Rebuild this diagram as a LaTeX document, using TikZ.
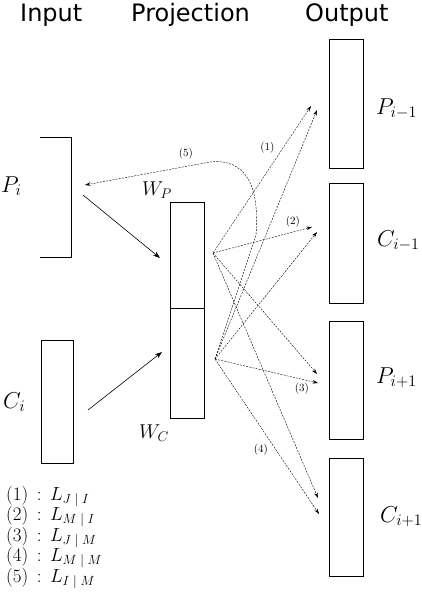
\documentclass[tikz,border=0pt]{standalone}
\usepackage{fix-cm}
\usepackage{fontspec}
\newfontfamily\hdrfont{DejaVu Sans}
\usetikzlibrary{arrows.meta}
\begin{document}
\begin{tikzpicture}[x=1pt,y=-1pt,
  box/.style={draw, line width=0.6pt, inner sep=0pt, outer sep=0pt, minimum width=34pt},
  pbox/.style={draw, line width=1pt, inner sep=0pt, outer sep=0pt, minimum width=34pt},
  hdr/.style={anchor=base west, inner sep=0pt, font=\hdrfont\fontsize{24}{28}\selectfont},
  bigm/.style={anchor=base west, inner sep=0pt, font=\fontsize{23}{27}\selectfont},
  wlab/.style={anchor=base west, inner sep=0pt, font=\fontsize{20}{24}\selectfont},
  num/.style={inner sep=0pt, font=\fontsize{11}{13}\selectfont},
  leg/.style={anchor=base west, inner sep=0pt, font=\fontsize{19}{22}\selectfont},
  conn/.style={dash pattern=on 2pt off 1.2pt, line width=0.4pt, -{Stealth[length=5.5pt,width=3.5pt]}},
  inarr/.style={line width=0.6pt, -{Stealth[length=7pt,width=5pt]}}]
\useasboundingbox (0,0) rectangle (422,592);

% headers
\node[hdr] (hin) at (20,21.5) {Input};
\node[hdr] (hproj) at (131,21.5) {Projection};
\node[hdr] (hout) at (305,21.5) {Output};

% input boxes
\node[inner sep=0pt, outer sep=0pt, minimum width=31pt, minimum height=120pt] (pi) at (55.5,197) {};
\draw[line width=0.6pt] (pi.north west) -- (pi.north east) -- (pi.south east) -- (pi.south west);
\node[box, minimum width=32pt, minimum height=123pt] (ci) at (57,401.5) {};
\node[bigm] (lpi) at (1,192) {$P_i$};
\node[bigm] (lci) at (3,408) {$C_i$};

% projection
\node[pbox, minimum height=106pt] (wp) at (187,255) {};
\node[pbox, minimum height=110pt] (wc) at (187,363) {};
\node[wlab] (lwp) at (142,195) {$W_P$};
\node[wlab] (lwc) at (139,438) {$W_C$};

% output boxes
\node[box, minimum height=129pt] (op1) at (346,103.5) {};
\node[box, minimum height=120pt] (oc1) at (346,243) {};
\node[box, minimum height=118pt] (op2) at (346,380) {};
\node[box, minimum height=118pt] (oc2) at (346,517) {};
\node[bigm] (lop1) at (376,114) {$P_{i-1}$};
\node[bigm] (loc1) at (377,246) {$C_{i-1}$};
\node[bigm] (lop2) at (376,383) {$P_{i+1}$};
\node[bigm] (loc2) at (380,522) {$C_{i+1}$};

% coordinates
\coordinate (s1) at (213,253);
\coordinate (s2) at (215,359);
\coordinate (tp1a) at (311,106);
\coordinate (tp1b) at (317,110);
\coordinate (tc1a) at (312,227);
\coordinate (tc1b) at (317,232);
\coordinate (tp2a) at (317,374);
\coordinate (tp2b) at (318,383);
\coordinate (tc2a) at (318,498);
\coordinate (tc2b) at (319,514);
\coordinate (pin) at (83,195);
\coordinate (pend) at (160,258);
\coordinate (cin) at (88,410);
\coordinate (cend) at (162,352);
\coordinate (t5) at (85,185);

% input arrows
\draw[inarr] (pin) -- (pend);
\draw[inarr] (cin) -- (cend);

% output arrows
\draw[conn] (s1) -- (tp1a);
\draw[conn] (s2) -- (tp1b);
\draw[conn] (s1) -- (tc1a);
\draw[conn] (s2) -- (tc1b);
\draw[conn] (s1) -- (tp2a);
\draw[conn] (s2) -- (tp2b);
\draw[conn] (s1) -- (tc2a);
\draw[conn] (s2) -- (tc2b);
\draw[conn] (s2) -- (256,235) .. controls (260,185) and (245,158) .. (210,162) -- (t5);

% arrow labels
\node[num] (n1) at (267.5,148) {$(1)$};
\node[num] (n2) at (293,222) {$(2)$};
\node[num] (n3) at (302,389) {$(3)$};
\node[num] (n4) at (261,450) {$(4)$};
\node[num] (n5) at (186,154) {$(5)$};

% legend
\node[leg] (g1) at (6,500) {$(1)\mkern8mu{:}\mkern8mu L_{J\mkern5mu|\mkern5mu I}$};
\node[leg] (g2) at (6,520.5) {$(2)\mkern8mu{:}\mkern8mu L_{M\mkern5mu|\mkern5mu I}$};
\node[leg] (g3) at (6,541) {$(3)\mkern8mu{:}\mkern8mu L_{J\mkern5mu|\mkern5mu M}$};
\node[leg] (g4) at (6,561.5) {$(4)\mkern8mu{:}\mkern8mu L_{M\mkern5mu|\mkern5mu M}$};
\node[leg] (g5) at (6,582) {$(5)\mkern8mu{:}\mkern8mu L_{I\mkern5mu|\mkern5mu M}$};
\end{tikzpicture}
\end{document}
